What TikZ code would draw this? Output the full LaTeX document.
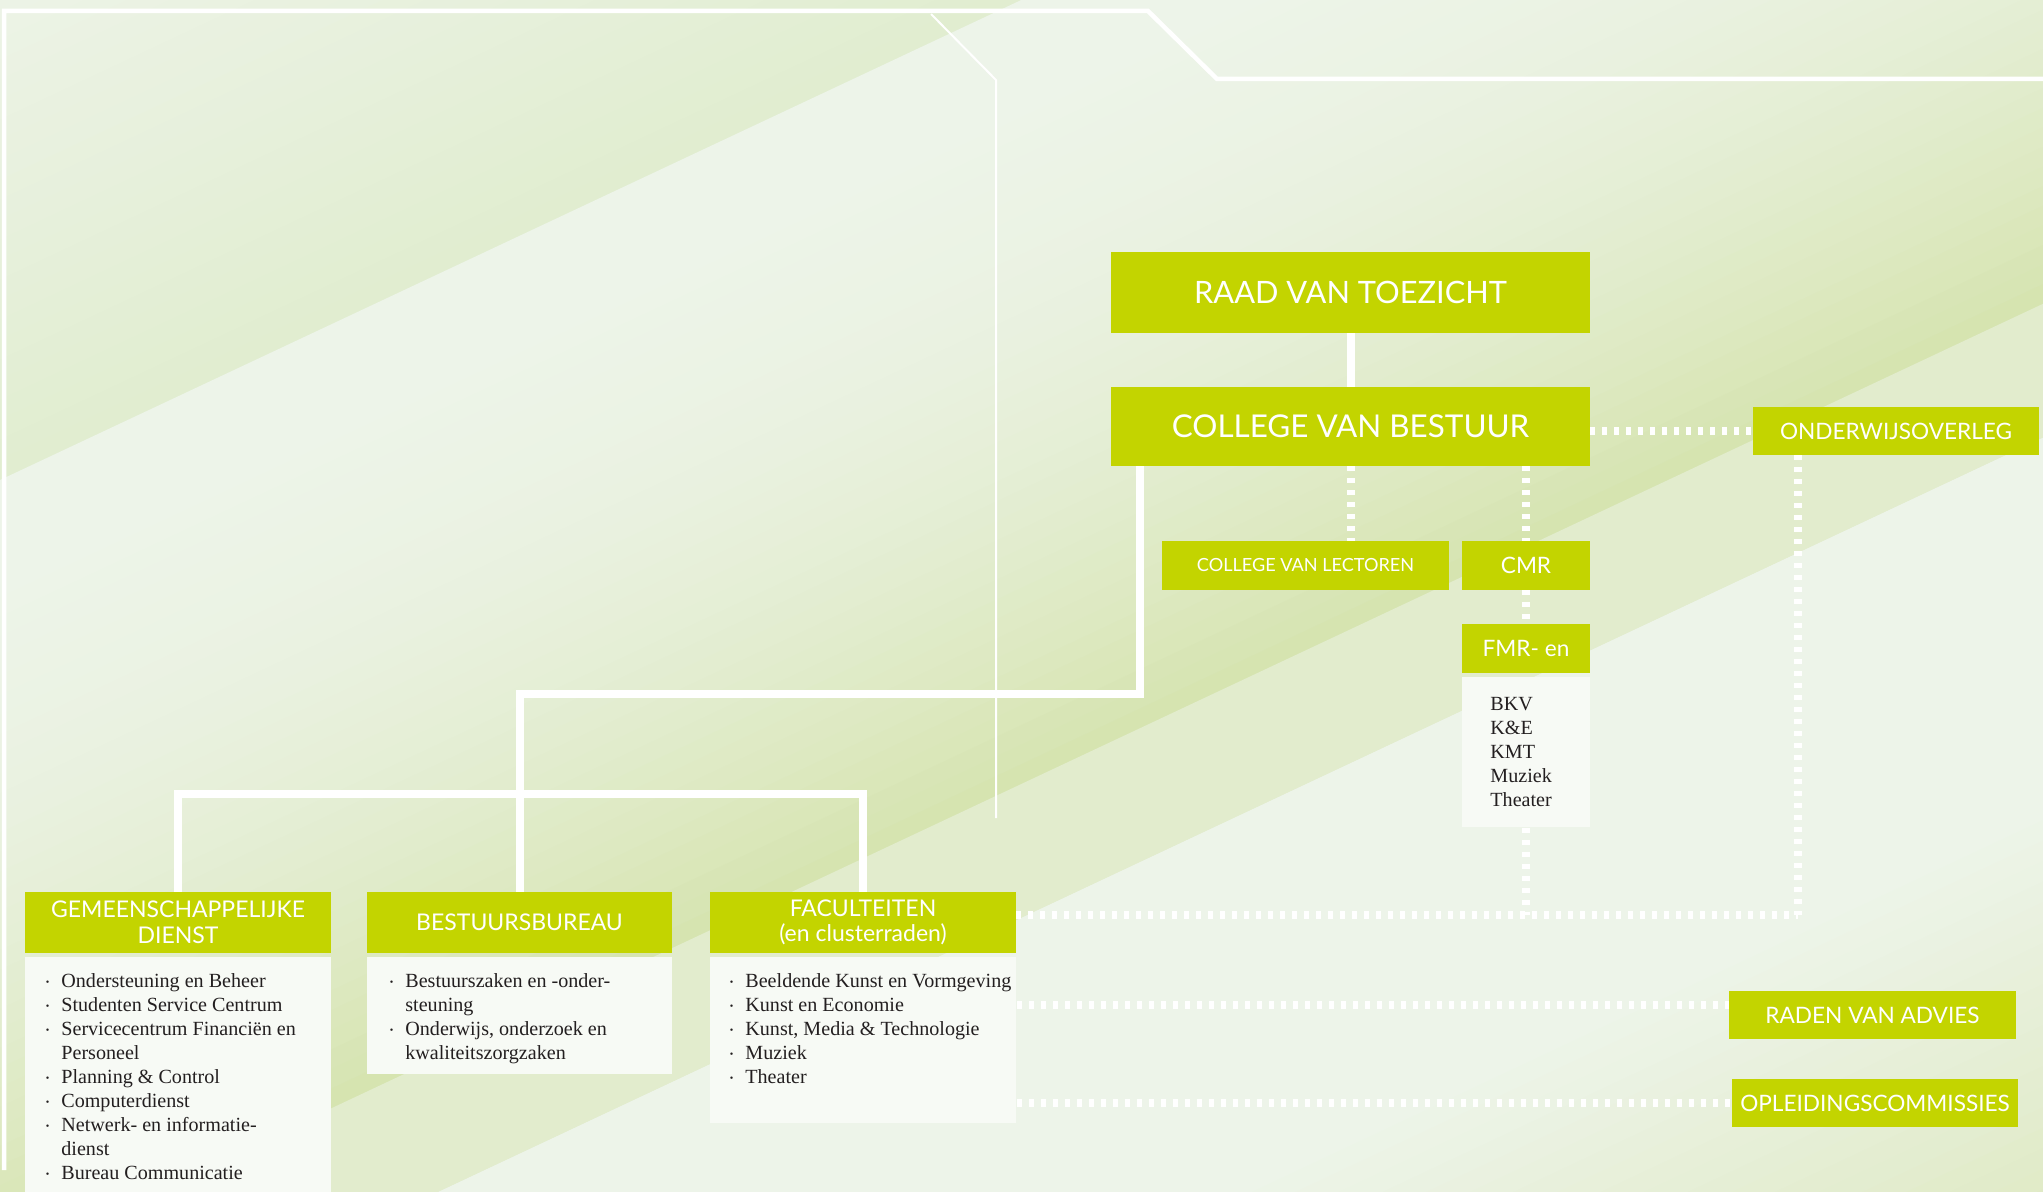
\documentclass[tikz,border=0pt]{standalone}
\usepackage{fontspec}
\newfontfamily\hfont{Lato}
\newfontfamily\bodyfont{Liberation Serif}
\usepackage{tikz}
\tikzset{% change default arrow tips
    >=latex
}
\usepackage{color}
\definecolor{hkulime}{RGB}{195,212,0}
\definecolor{listwhite}{RGB}{247,250,245}
\definecolor{inkdark}{RGB}{35,31,32}
\definecolor{bgpale}{RGB}{237,244,233}
\definecolor{bgcorner}{RGB}{236,243,230}
\definecolor{bgedge}{RGB}{225,237,208}
\definecolor{bgdeep}{RGB}{214,228,176}
\definecolor{bgband}{RGB}{226,236,205}
\definecolor{bgfoot}{RGB}{224,234,198}
\newcommand{\bul}{\llap{\raisebox{.1em}{\scalebox{.5}{\textbullet}}\hspace{6pt}}}

\begin{document}
\begin{tikzpicture}[x=0.5pt,y=-0.5pt]
    		\newcommand{\bigtxt}{\fontsize{15.7}{16}\selectfont}
    		\newcommand{\midtxt}{\fontsize{11.5}{12.8}\selectfont}
    		\newcommand{\smltxt}{\fontsize{11.3}{12}\selectfont}

    		% set the styles of boxes and lines
    		\tikzset{
    			orgbox/.style={fill=hkulime, text=white, inner sep=0pt, align=center},
    			listbox/.style={fill=listwhite, inner sep=0pt, anchor=north west},
    			listtext/.style={inner sep=0pt, anchor=north west, align=left, text=inkdark,
    				font=\bodyfont\fontsize{10.05}{12}\selectfont},
    			hier/.style={draw=white, line width=4pt},
    			overleg/.style={draw=white, line width=4pt, dash pattern=on 2.5pt off 3.5pt},
    			kader/.style={draw=white, line width=2.25pt}
    		}

    		\useasboundingbox (0,0) rectangle (2043,1192);
    		\clip (0,0) rectangle (2043,1192);

    		% background bands
    		\fill[bgpale] (0,0) rectangle (2043,1192);
    		\foreach \i in {0,...,23}
    		{
    			\pgfmathtruncatemacro{\p}{100*\i/23}
    			\fill[bgedge!\p!bgcorner] (-10,20*\i+4.7) -- (2060,20*\i-968.2) -- (2060,20*\i+22-968.2) -- (-10,20*\i+22+4.7) -- cycle;
    		}
    		\foreach \i in {0,...,39}
    		{
    			\pgfmathsetmacro{\ca}{480+19.6*\i}
    			\pgfmathtruncatemacro{\p}{100*(\i/39)*(\i/39)}
    			\fill[bgdeep!\p!bgpale] (-10,\ca+4.7) -- (2060,\ca-968.2) -- (2060,\ca+21-968.2) -- (-10,\ca+21+4.7) -- cycle;
    		}
    		\fill[bgband] (-10,1264+4.7) -- (2060,1264-968.2) -- (2060,1398-968.2) -- (-10,1398+4.7) -- cycle;
    		\fill[bgpale] (-10,1398+4.7) -- (2060,1398-968.2) -- (2060,1760-968.2) -- (-10,1760+4.7) -- cycle;
    		\foreach \i in {0,...,19}
    		{
    			\pgfmathsetmacro{\ca}{1760+20.5*\i}
    			\pgfmathtruncatemacro{\p}{100*\i/19}
    			\fill[bgfoot!\p!bgpale] (-10,\ca+4.7) -- (2060,\ca-968.2) -- (2060,\ca+22-968.2) -- (-10,\ca+22+4.7) -- cycle;
    		}

    		% frame lines
    		\draw[kader] (4,1170) -- (4,11) -- (1148,11) -- (1217,79) -- (2060,79);
    		\draw[white, line width=1pt] (931,14) -- (996,80) -- (996,818);

    		% top of the organisation
    		\node[orgbox, minimum width=239.5pt, minimum height=40.5pt, font=\hfont\fontsize{15.4}{16}\selectfont] (rvt) at (1350.5,292.5) {RAAD VAN TOEZICHT};
    		\node[orgbox, minimum width=239.5pt, minimum height=39.5pt, font=\hfont\bigtxt] (cvb) at (1350.5,426.5) {COLLEGE VAN BESTUUR};
    		\node[orgbox, minimum width=143pt, minimum height=24pt, font=\hfont\smltxt] (ovl) at (1896,431) {ONDERWIJSOVERLEG};
    		\node[orgbox, minimum width=143.5pt, minimum height=24.5pt, font=\hfont\fontsize{9.05}{10}\selectfont] (cvl) at (1305.5,565.5) {COLLEGE VAN LECTOREN};
    		\node[orgbox, minimum width=64pt, minimum height=24.5pt, font=\hfont\smltxt] (cmr) at (1526,565.5) {CMR};
    		\node[orgbox, minimum width=64pt, minimum height=24.5pt, font=\hfont\smltxt] (fmr) at (1526,648.5) {FMR- en};
    		\node[listbox, minimum width=64pt, minimum height=75pt] (fmrl) at (1462,677) {};
    		\node[listtext] (fmrt) at (1490,697) {BKV\\K\&E\\KMT\\Muziek\\Theater};

    		% the three services
    		\node[orgbox, minimum width=153pt, minimum height=30.5pt, font=\hfont\midtxt] (gd) at (178,922.5) {GEMEENSCHAPPELIJKE\\DIENST};
    		\node[orgbox, minimum width=152.5pt, minimum height=30.5pt, font=\hfont\midtxt] (bb) at (519.5,922.5) {BESTUURSBUREAU};
    		\node[orgbox, minimum width=153pt, minimum height=30.5pt, font=\hfont\midtxt] (fac) at (863,922.5) {FACULTEITEN\\(en clusterraden)};

    		\node[listbox, minimum width=153pt, minimum height=122pt] (gdl) at (25,957) {};
    		\node[listbox, minimum width=152.5pt, minimum height=58.5pt] (bbl) at (367,957) {};
    		\node[listbox, minimum width=153pt, minimum height=83pt] (facl) at (710,957) {};

    		\node[listtext] (gdt) at (61,973) {\bul Ondersteuning en Beheer\\
    			\bul Studenten Service Centrum\\
    			\bul Servicecentrum Financiën en\\
    			Personeel\\
    			\bul Planning \& Control\\
    			\bul Computerdienst\\
    			\bul Netwerk- en informatie-\\
    			dienst\\
    			\bul Bureau Communicatie};
    		\node[listtext] (bbt) at (405,973) {\bul Bestuurszaken en -onder-\\
    			steuning\\
    			\bul Onderwijs, onderzoek en\\
    			kwaliteitszorgzaken};
    		\node[listtext] (fact) at (745,973) {\bul Beeldende Kunst en Vormgeving\\
    			\bul Kunst en Economie\\
    			\bul Kunst, Media \& Technologie\\
    			\bul Muziek\\
    			\bul Theater};

    		% advisory bodies
    		\node[orgbox, minimum width=143.5pt, minimum height=24pt, font=\hfont\smltxt] (rva) at (1872.5,1015) {RADEN VAN ADVIES};
    		\node[orgbox, minimum width=143pt, minimum height=24pt, font=\hfont\smltxt] (opl) at (1875,1103) {OPLEIDINGSCOMMISSIES};

    		% solid lines
    		\draw[hier] (rvt) -- (cvb);
    		\coordinate (trunk) at (1140,694);
    		\draw[hier] (trunk |- cvb.south) -- (trunk) -| (bb.north);
    		\coordinate (split) at (519.5,794);
    		\draw[hier] (gd.north) |- (split) -| (fac.north);

    		% dotted lines
    		\draw[overleg] (cvb.east |- ovl.west) -- (ovl.west);
    		\draw[overleg] (cvb.south) -- (cvb.south |- cvl.north);
    		\draw[overleg] (cmr.north |- cvb.south) -- (cmr.north);
    		\draw[overleg] (cmr.south) -- (fmr.north);
    		\coordinate (mrjoin) at (1798,915);
    		\draw[overleg] (fmrl.south) -- (fmrl.south |- mrjoin);
    		\draw[overleg] (ovl.south -| mrjoin) -- (mrjoin);
    		\draw[overleg] (fac.east |- mrjoin) -- (mrjoin);
    		\draw[overleg] ([yshift=5pt]rva.west -| facl.east) -- ([yshift=5pt]rva.west);
    		\draw[overleg] (opl.west -| facl.east) -- (opl.west);
\end{tikzpicture}
\end{document}
